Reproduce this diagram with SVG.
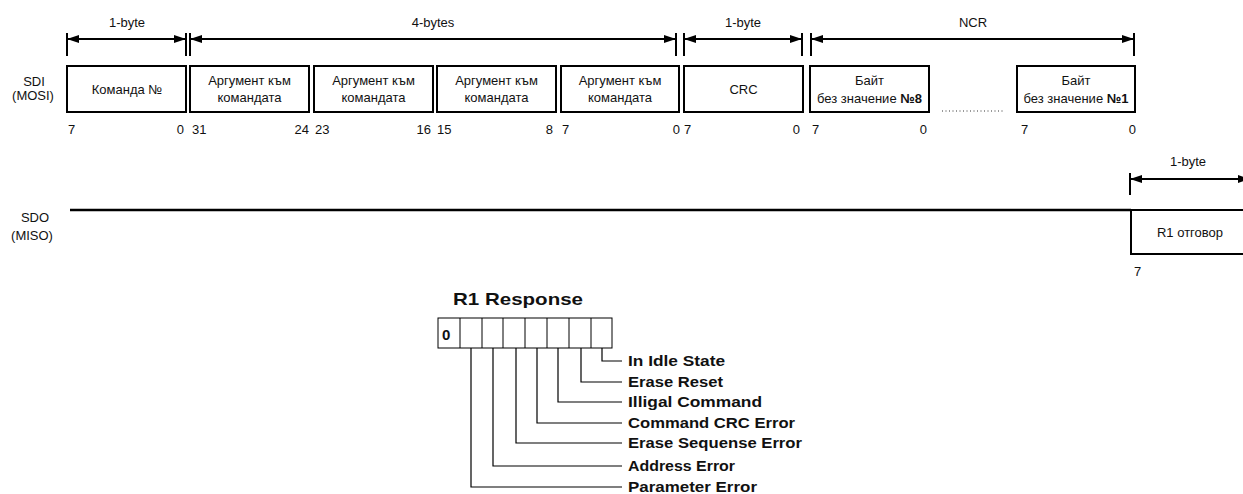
<svg xmlns="http://www.w3.org/2000/svg" width="1243" height="494" viewBox="0 0 1243 494">
<style>
text{font-family:"Liberation Sans",Arial,sans-serif;fill:#111}
.t{font-size:13px}
.m{text-anchor:middle}
.e{text-anchor:end}
.box{fill:#fff;stroke:#000;stroke-width:2}
.tick{stroke:#000;stroke-width:2}
.arr{stroke:#000;stroke-width:2;fill:none;marker-start:url(#ah);marker-end:url(#ah)}
.cell{fill:#fff;stroke:#000;stroke-width:1}
.lg{stroke:#000;stroke-width:1.2;fill:none}
.b{font-weight:bold;font-size:15px}
</style>
<defs>
<marker id="ah" viewBox="0 0 12 8" refX="11" refY="4" markerWidth="12" markerHeight="8" markerUnits="userSpaceOnUse" orient="auto-start-reverse">
<path d="M0,0 L12,4 L0,8 z" fill="#000"/>
</marker>
</defs>

<g id="labels">
<text class="t m" x="34" y="86">SDI</text>
<text class="t m" x="33" y="100">(MOSI)</text>
<text class="t m" x="35" y="222">SDO</text>
<text class="t m" x="32" y="240">(MISO)</text>
</g>

<g id="connectors">
<line class="tick" x1="67" y1="33" x2="67" y2="56"/>
<line class="tick" x1="186" y1="33" x2="186" y2="56"/>
<line class="arr" x1="68" y1="39" x2="185" y2="39"/>
<text class="t m" x="127" y="27">1-byte</text>

<line class="tick" x1="190" y1="33" x2="190" y2="56"/>
<line class="tick" x1="676" y1="33" x2="676" y2="56"/>
<line class="arr" x1="191" y1="39" x2="675" y2="39"/>
<text class="t m" x="433" y="27">4-bytes</text>

<line class="tick" x1="684" y1="33" x2="684" y2="56"/>
<line class="tick" x1="802" y1="33" x2="802" y2="56"/>
<line class="arr" x1="685" y1="39" x2="801" y2="39"/>
<text class="t m" x="743" y="27">1-byte</text>

<line class="tick" x1="811" y1="33" x2="811" y2="56"/>
<line class="tick" x1="1134" y1="33" x2="1134" y2="56"/>
<line class="arr" x1="812" y1="39" x2="1133" y2="39"/>
<text class="t m" x="973" y="27">NCR</text>

<line class="tick" x1="1130" y1="173" x2="1130" y2="195"/>
<line class="arr" x1="1131" y1="179" x2="1249" y2="179"/>
<text class="t m" x="1188" y="166">1-byte</text>

<line x1="70" y1="210" x2="1131" y2="210" stroke="#000" stroke-width="2.5"/>
<line x1="942" y1="111" x2="1005" y2="111" stroke="#333" stroke-width="1" stroke-dasharray="1 2.5"/>
</g>

<g id="cmd">
<rect class="box" x="67" y="66" width="119" height="46"/>
<text class="t m" x="127" y="94">Команда №</text>
<text class="t" x="68" y="134">7</text>
<text class="t e" x="184" y="134">0</text>
</g>
<g id="arg1">
<rect class="box" x="190" y="66" width="119" height="46"/>
<text class="t m" x="249.5" y="85">Аргумент към</text>
<text class="t m" x="249.5" y="102">командата</text>
<text class="t" x="192" y="134">31</text>
<text class="t e" x="309" y="134">24</text>
</g>
<g id="arg2">
<rect class="box" x="314" y="66" width="119" height="46"/>
<text class="t m" x="373.5" y="85">Аргумент към</text>
<text class="t m" x="373.5" y="102">командата</text>
<text class="t" x="315" y="134">23</text>
<text class="t e" x="431" y="134">16</text>
</g>
<g id="arg3">
<rect class="box" x="437" y="66" width="119" height="46"/>
<text class="t m" x="496.5" y="85">Аргумент към</text>
<text class="t m" x="496.5" y="102">командата</text>
<text class="t" x="437" y="134">15</text>
<text class="t e" x="553" y="134">8</text>
</g>
<g id="arg4">
<rect class="box" x="561" y="66" width="118" height="46"/>
<text class="t m" x="620" y="85">Аргумент към</text>
<text class="t m" x="620" y="102">командата</text>
<text class="t" x="562" y="134">7</text>
<text class="t e" x="680" y="134">0</text>
</g>
<g id="crc">
<rect class="box" x="684" y="66" width="119" height="46"/>
<text class="t m" x="743.5" y="94">CRC</text>
<text class="t" x="684" y="134">7</text>
<text class="t e" x="800" y="134">0</text>
</g>
<g id="ncr8">
<rect class="box" x="810" y="66" width="119" height="46"/>
<text class="t m" x="869.5" y="85">Байт</text>
<text class="t m" x="869.5" y="103">без значение <tspan font-weight="bold">№8</tspan></text>
<text class="t" x="812" y="134">7</text>
<text class="t e" x="927" y="134">0</text>
</g>
<g id="ncr1">
<rect class="box" x="1017" y="66" width="118" height="46"/>
<text class="t m" x="1076" y="85">Байт</text>
<text class="t m" x="1076" y="103">без значение <tspan font-weight="bold">№1</tspan></text>
<text class="t" x="1021" y="134">7</text>
<text class="t e" x="1136" y="134">0</text>
</g>
<g id="r1">
<rect class="box" x="1131" y="210" width="119" height="44"/>
<text class="t m" x="1190" y="237">R1 отговор</text>
<text class="t" x="1134" y="276">7</text>
</g>

<g id="r1response">
<text x="518" y="305" font-size="17" font-weight="bold" text-anchor="middle" textLength="130" lengthAdjust="spacingAndGlyphs">R1 Response</text>
<rect class="cell" x="438" y="318" width="174" height="30"/>
<line class="cell" x1="460" y1="318" x2="460" y2="348"/>
<line class="cell" x1="482" y1="318" x2="482" y2="348"/>
<line class="cell" x1="503" y1="318" x2="503" y2="348"/>
<line class="cell" x1="525" y1="318" x2="525" y2="348"/>
<line class="cell" x1="547" y1="318" x2="547" y2="348"/>
<line class="cell" x1="569" y1="318" x2="569" y2="348"/>
<line class="cell" x1="591" y1="318" x2="591" y2="348"/>
<text x="442" y="340" font-size="15" font-weight="bold">0</text>
</g>

<g id="legend">
<path class="lg" d="M602,348 V361 H622"/>
<path class="lg" d="M581,348 V382 H622"/>
<path class="lg" d="M558,348 V402 H622"/>
<path class="lg" d="M537,348 V423 H622"/>
<path class="lg" d="M516,348 V443 H622"/>
<path class="lg" d="M493,348 V466 H622"/>
<path class="lg" d="M471,348 V487 H622"/>
<text class="b" x="628" y="366" textLength="97" lengthAdjust="spacingAndGlyphs">In Idle State</text>
<text class="b" x="628" y="387" textLength="95" lengthAdjust="spacingAndGlyphs">Erase Reset</text>
<text class="b" x="628" y="407" textLength="134" lengthAdjust="spacingAndGlyphs">Illigal Command</text>
<text class="b" x="628" y="428" textLength="167" lengthAdjust="spacingAndGlyphs">Command CRC Error</text>
<text class="b" x="628" y="448" textLength="174" lengthAdjust="spacingAndGlyphs">Erase Sequense Error</text>
<text class="b" x="628" y="471" textLength="107" lengthAdjust="spacingAndGlyphs">Address Error</text>
<text class="b" x="628" y="492" textLength="129" lengthAdjust="spacingAndGlyphs">Parameter Error</text>
</g>
</svg>
